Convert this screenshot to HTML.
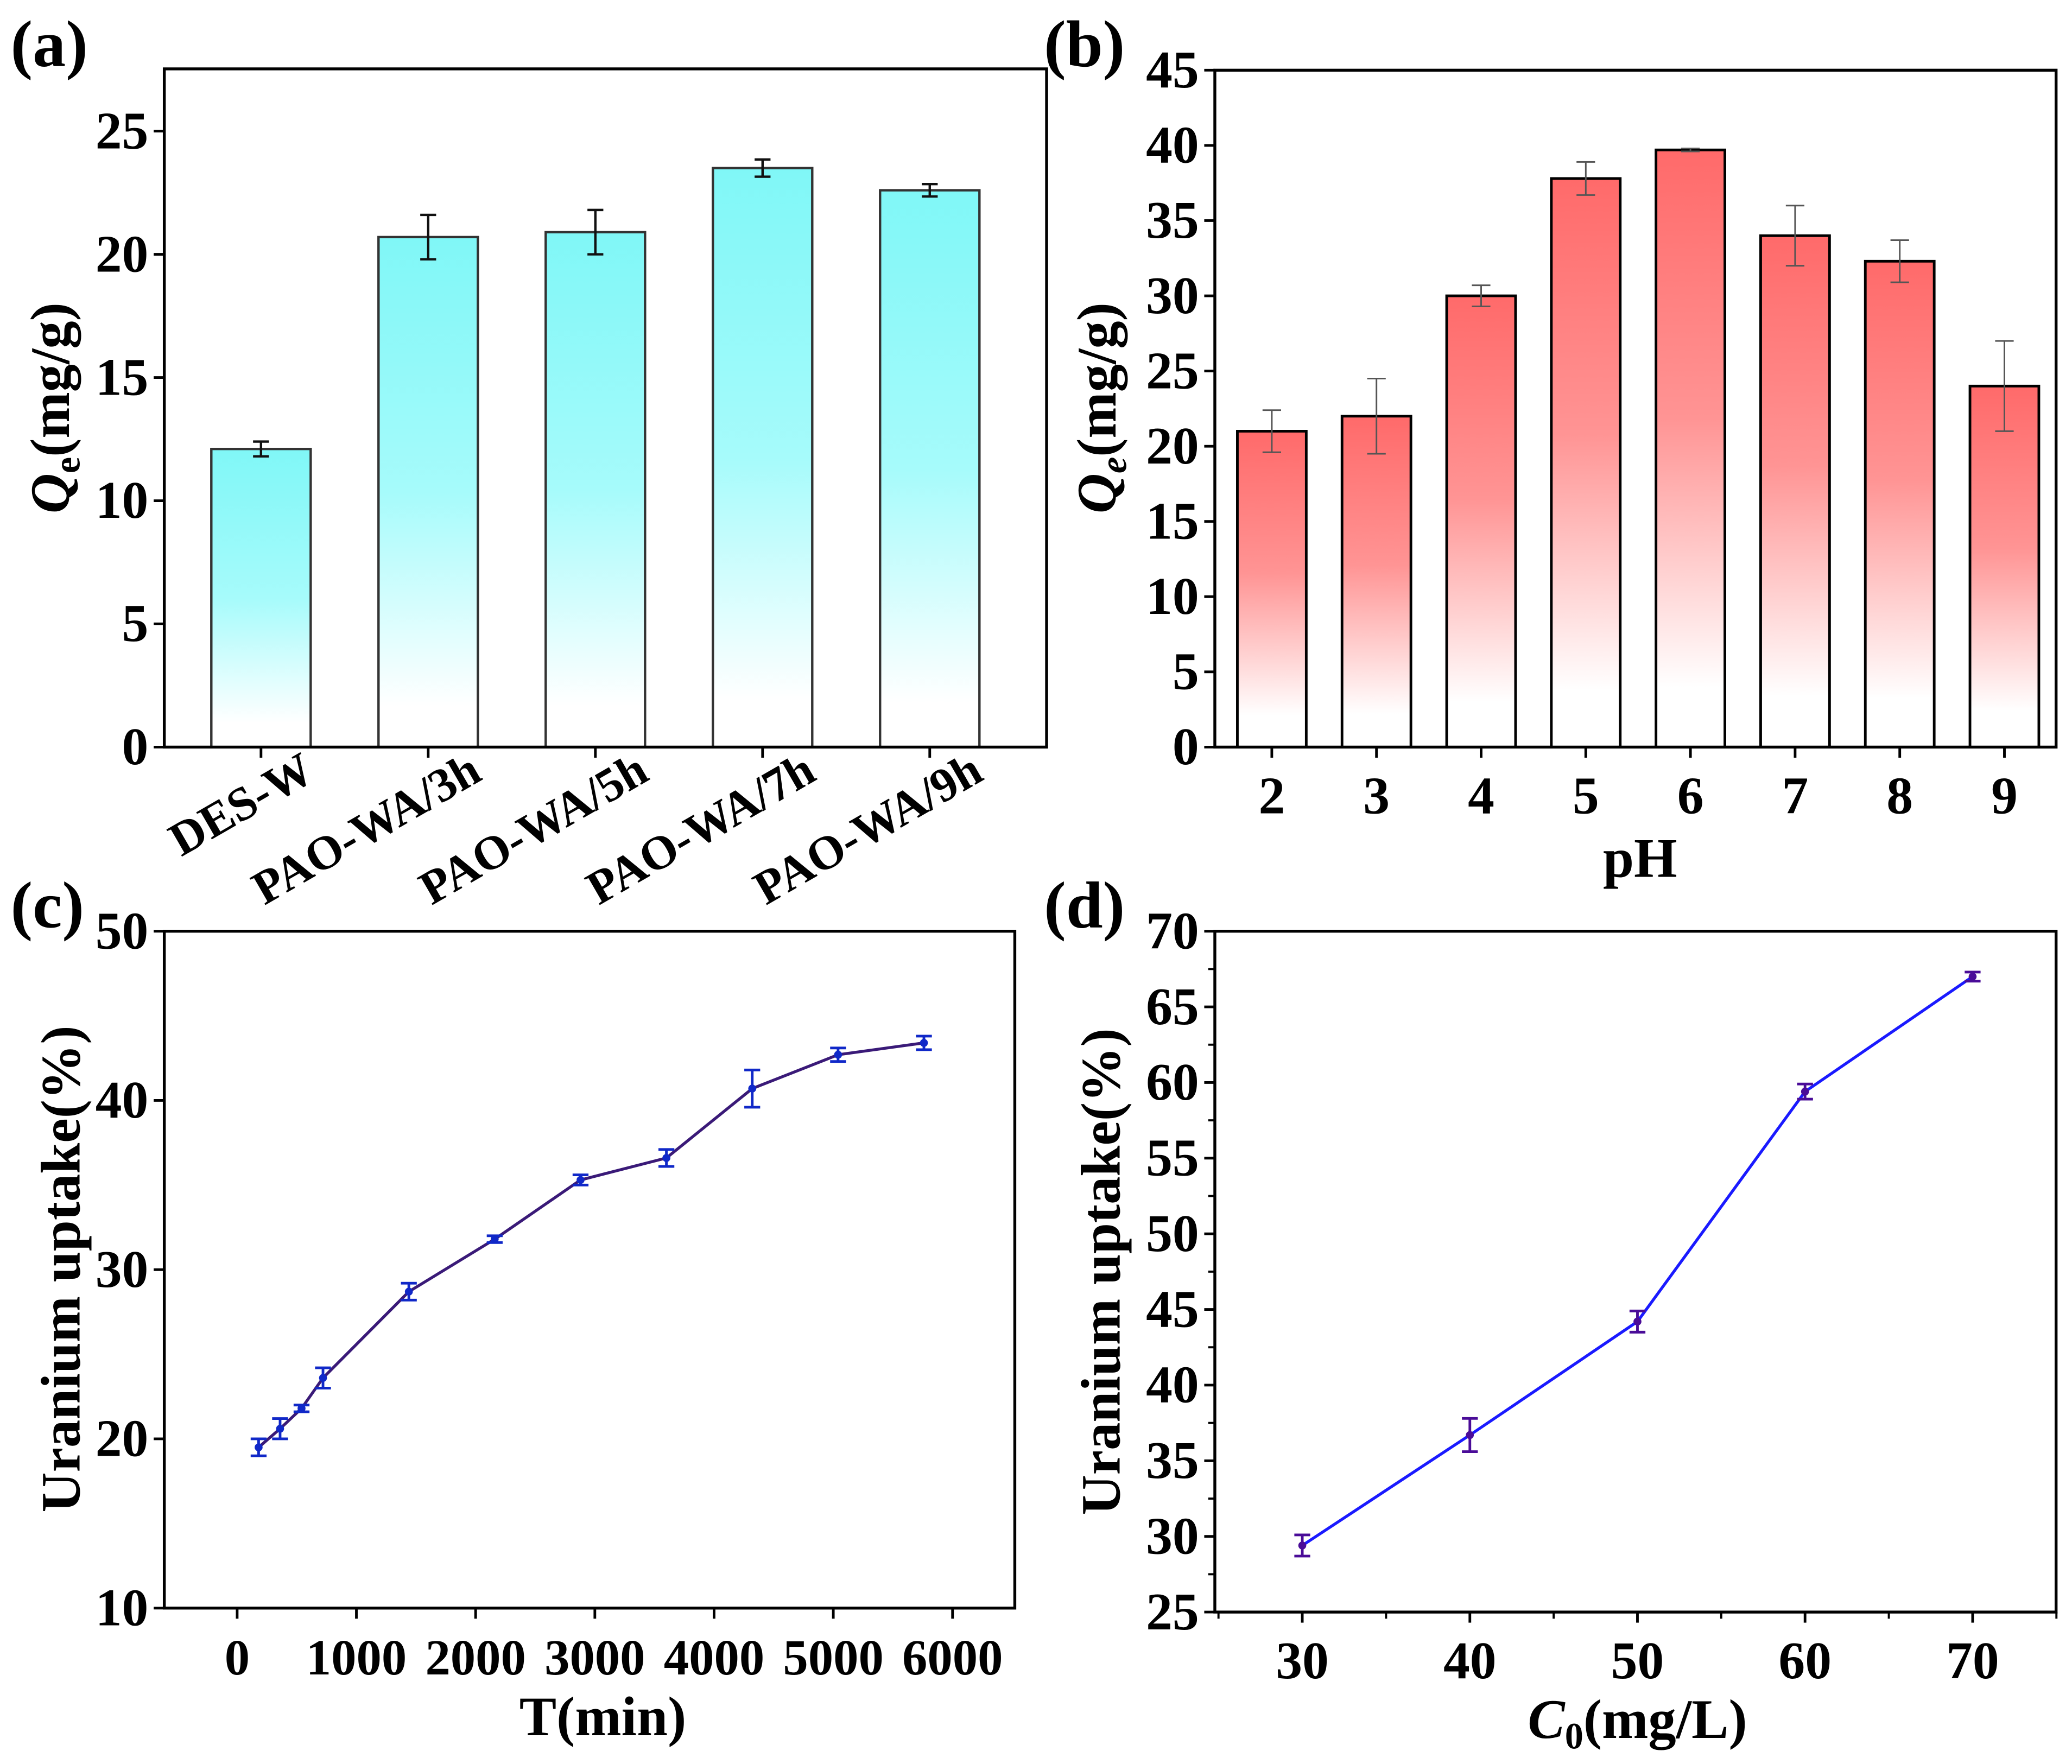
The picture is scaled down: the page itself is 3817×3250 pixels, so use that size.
<!DOCTYPE html>
<html><head><meta charset="utf-8"><style>
html,body{margin:0;padding:0;background:#fff;}
svg{display:block;}
text{font-family:"Liberation Serif","Times New Roman",Times,serif;font-weight:bold;fill:#000;}
</style></head><body>
<svg id="fig" width="3817" height="3250" viewBox="0 0 1564 1331.7" xmlns="http://www.w3.org/2000/svg" font-family="Liberation Serif, serif">
<defs>
<linearGradient id="gc" x1="0" y1="0" x2="0" y2="1"><stop offset="0" stop-color="#80f7f7"/><stop offset="0.5" stop-color="#a6fbfb"/><stop offset="0.92" stop-color="#ffffff"/><stop offset="1" stop-color="#ffffff"/></linearGradient>
<linearGradient id="gr" x1="0" y1="0" x2="0" y2="1"><stop offset="0" stop-color="#ff6a6a"/><stop offset="0.45" stop-color="#ff9494"/><stop offset="0.9" stop-color="#ffffff"/><stop offset="1" stop-color="#ffffff"/></linearGradient>
</defs>
<g id="pa"></g>
<g id="pb"></g>
<g id="pc"></g>
<g id="pd"></g>
</svg>
<script>
// Panel (a)
const catsA = ["DES-W","PAO-WA/3h","PAO-WA/5h","PAO-WA/7h","PAO-WA/9h"];
const valsA = [12.1, 20.7, 20.9, 23.5, 22.6];
const errA = [0.3, 0.9, 0.9, 0.35, 0.25];
const ticksA = [0,5,10,15,20,25];
// Panel (b)
const catsB = [2,3,4,5,6,7,8,9];
const valsB = [21.0, 22.0, 30.0, 37.8, 39.7, 34.0, 32.3, 24.0];
const errB = [1.4, 2.5, 0.7, 1.1, 0.1, 2.0, 1.4, 3.0];
const ticksB = [0,5,10,15,20,25,30,35,40,45];
// Panel (c)
const timeC = [180,360,540,720,1440,2160,2880,3600,4320,5040,5760];
const valsC = [19.5,20.6,21.8,23.6,28.7,31.8,35.3,36.6,40.7,42.7,43.4];
const errC = [0.5,0.6,0.2,0.6,0.5,0.2,0.3,0.5,1.1,0.4,0.4];
const xticksC = [0,1000,2000,3000,4000,5000,6000];
const yticksC = [10,20,30,40,50];
// Panel (d)
const concD = [30,40,50,60,70];
const valsD = [29.4,36.7,44.2,59.4,67.0];
const errD = [0.7,1.1,0.7,0.5,0.3];
const xticksD = [30,40,50,60,70];
const yticksD = [25,30,35,40,45,50,55,60,65,70];

const NS="http://www.w3.org/2000/svg";
function mk(parent,tag,attrs,txt){const e=document.createElementNS(NS,tag);for(const k in attrs)e.setAttribute(k,attrs[k]);if(tag==='text'){e.setAttribute('font-family','Liberation Serif, Times New Roman, serif');e.setAttribute('font-weight','bold');}if(txt!==undefined)e.textContent=txt;parent.appendChild(e);return e;}
function lin(d0,d1,r0,r1){return v=>r0+(v-d0)*(r1-r0)/(d1-d0);}

function frame(g,L,T,R,B){
  const f=mk(g,'rect',{x:L,y:T,width:R-L,height:B-T,fill:'none',stroke:'#000','stroke-width':2.2});
  
  
}
function yAxis(g,ys,ticks,L,fs,minor){
  ticks.forEach((t,i)=>{
    const y=ys(t);
    const tk=mk(g,'line',{x1:L-8,x2:L,y1:y,y2:y,stroke:'#000','stroke-width':2});
    
    
    const lb=mk(g,'text',{x:L-12,y:y+13,'text-anchor':'end','font-size':fs},String(t));
    
    
    if(minor && i<ticks.length-1){
      const ym=ys((t+ticks[i+1])/2);
      const mt=mk(g,'line',{x1:L-5,x2:L,y1:ym,y2:ym,stroke:'#000','stroke-width':1.6});
      
      
    }
  });
}
function yTitle(g,x,y,html){
  const t=mk(g,'text',{x:0,y:0,'text-anchor':'middle','font-size':42,transform:`translate(${x},${y}) rotate(-90)`});
  t.innerHTML=html;
  
  
}
function panelLabel(g,x,y,s){
  const t=mk(g,'text',{x:x,y:y,'font-size':50},s);
  
  
}
function errbar(g,x,yv,e,ys,cw,col,sw){
  const y1=ys(yv+e),y2=ys(yv-e);
  const p=mk(g,'path',{d:`M${x},${y1}V${y2}M${x-cw},${y1}H${x+cw}M${x-cw},${y2}H${x+cw}`,stroke:col,'stroke-width':sw,fill:'none'});
  
  
}

// ---- Panel a ----
(function(){
  const g=document.getElementById('pa');
  const L=124,R=790,T=52,B=564;
  const ys=lin(0,25,564,99);
  const xs=i=>197+i*126.2;
  const bw=75;
  catsA.forEach((c,i)=>{
    const y=ys(valsA[i]);
    const r=mk(g,'rect',{x:xs(i)-bw/2,y:y,width:bw,height:B-y,fill:'url(#gc)',stroke:'#333','stroke-width':1.8});
    
    
    errbar(g,xs(i),valsA[i],errA[i],ys,6,'#111',1.8);
    const tk=mk(g,'line',{x1:xs(i),x2:xs(i),y1:B,y2:B+8,stroke:'#000','stroke-width':2});
    
    
    const lb=mk(g,'text',{x:0,y:0,'text-anchor':'end','font-size':36,transform:`translate(${xs(i)+42},${B+24}) rotate(-30)`},c);
    
    
  });
  frame(g,L,T,R,B);
  yAxis(g,ys,ticksA,L,40,false);
  yTitle(g,52,308,'<tspan font-style="italic">Q</tspan><tspan font-size="28" dy="8">e</tspan><tspan dy="-8">(mg/g)</tspan>');
  panelLabel(g,8,50,'(a)');
})();

// ---- Panel b ----
(function(){
  const g=document.getElementById('pb');
  const L=917,R=1552,T=53,B=564;
  const ys=lin(0,45,564,53);
  const xs=lin(2,9,960,1513);
  const bw=52;
  catsB.forEach((c,i)=>{
    const y=ys(valsB[i]);
    const r=mk(g,'rect',{x:xs(c)-bw/2,y:y,width:bw,height:B-y,fill:'url(#gr)',stroke:'#000','stroke-width':2});
    
    
    errbar(g,xs(c),valsB[i],errB[i],ys,7,'#555',1.2);
    const tk=mk(g,'line',{x1:xs(c),x2:xs(c),y1:B,y2:B+8,stroke:'#000','stroke-width':2});
    
    
    const lb=mk(g,'text',{x:xs(c),y:B+50,'text-anchor':'middle','font-size':40},String(c));
    
    
  });
  frame(g,L,T,R,B);
  yAxis(g,ys,ticksB,L,40,false);
  const xt=mk(g,'text',{x:1238,y:662,'text-anchor':'middle','font-size':42},'pH');
  
  
  yTitle(g,842,308,'<tspan font-style="italic">Q</tspan><tspan font-style="italic" font-size="28" dy="8">e</tspan><tspan dy="-8">(mg/g)</tspan>');
  panelLabel(g,788,50,'(b)');
})();

// ---- Panel c ----
(function(){
  const g=document.getElementById('pc');
  const L=124,R=766,T=703,B=1214;
  const ys=lin(10,50,1214,703);
  const xs=lin(0,6000,179,719);
  frame(g,L,T,R,B);
  yAxis(g,ys,yticksC,L,40,false);
  xticksC.forEach(t=>{
    const tk=mk(g,'line',{x1:xs(t),x2:xs(t),y1:B,y2:B+8,stroke:'#000','stroke-width':2});
    
    
    const lb=mk(g,'text',{x:xs(t),y:B+50,'text-anchor':'middle','font-size':38},String(t));
    
    
  });
  const pts=timeC.map((t,i)=>xs(t)+','+ys(valsC[i])).join(' ');
  const pl=mk(g,'polyline',{points:pts,fill:'none',stroke:'#3a1a78','stroke-width':2.2});
  
  
  timeC.forEach((t,i)=>{
    errbar(g,xs(t),valsC[i],errC[i],ys,6,'#1028c8',2);
    const c=mk(g,'circle',{cx:xs(t),cy:ys(valsC[i]),r:3,fill:'#1028c8'});
    
    
  });
  const xt=mk(g,'text',{x:455,y:1310,'text-anchor':'middle','font-size':42},'T(min)');
  
  
  yTitle(g,60,958,'Uranium uptake(%)');
  panelLabel(g,8,700,'(c)');
})();

// ---- Panel d ----
(function(){
  const g=document.getElementById('pd');
  const L=917,R=1552,T=703,B=1217;
  const ys=lin(25,70,1217,703);
  const xs=lin(30,70,983,1489);
  frame(g,L,T,R,B);
  yAxis(g,ys,yticksD,L,40,true);
  xticksD.forEach((t,i)=>{
    const tk=mk(g,'line',{x1:xs(t),x2:xs(t),y1:B,y2:B+8,stroke:'#000','stroke-width':2});
    
    
    const lb=mk(g,'text',{x:xs(t),y:B+50,'text-anchor':'middle','font-size':40},String(t));
    
    
  });
  [25,35,45,55,65,75].forEach(t=>{
    const mt=mk(g,'line',{x1:xs(t),x2:xs(t),y1:B,y2:B+5,stroke:'#000','stroke-width':1.6});
    
    
  });
  const pts=concD.map((t,i)=>xs(t)+','+ys(valsD[i])).join(' ');
  const pl=mk(g,'polyline',{points:pts,fill:'none',stroke:'#1a1aff','stroke-width':2.2});
  
  
  concD.forEach((t,i)=>{
    errbar(g,xs(t),valsD[i],errD[i],ys,6,'#4a0c98',2);
    const c=mk(g,'circle',{cx:xs(t),cy:ys(valsD[i]),r:3,fill:'#4a0c98'});
    
    
  });
  const xt=mk(g,'text',{x:1236,y:1312,'text-anchor':'middle','font-size':42});
  xt.innerHTML='<tspan font-style="italic">C</tspan><tspan font-size="28" dy="8">0</tspan><tspan dy="-8">(mg/L)</tspan>';
  
  
  yTitle(g,845,960,'Uranium uptake(%)');
  panelLabel(g,788,700,'(d)');
})();
</script>
</body></html>
